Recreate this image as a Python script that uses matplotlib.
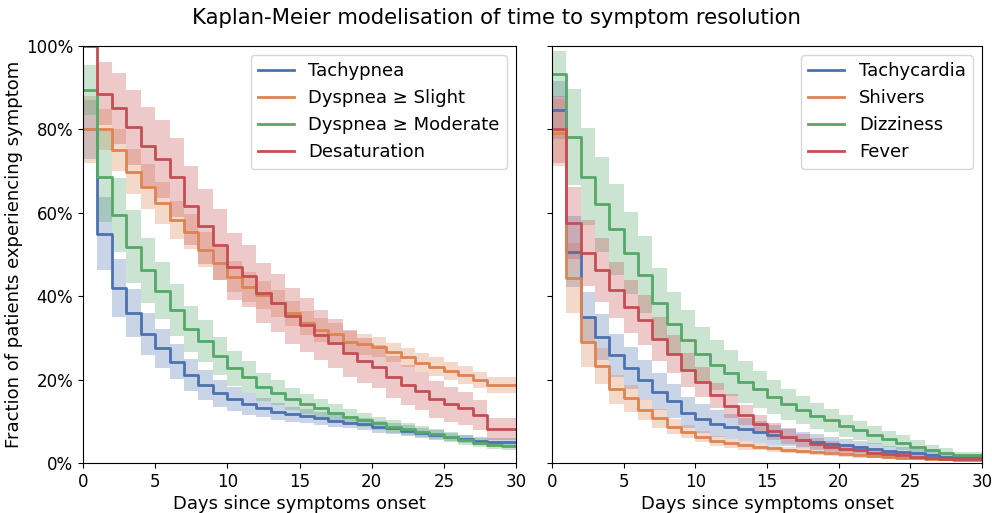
import matplotlib
matplotlib.use("Agg")
import matplotlib.pyplot as plt
from matplotlib.ticker import PercentFormatter
import numpy as np

days = list(range(0, 31))

# Left panel (values in %)
left_names = ["Tachypnea", "Dyspnea ≥ Slight", "Dyspnea ≥ Moderate", "Desaturation"]
tachypnea = [80, 55, 42, 36, 30.9, 27.5, 24.3, 21.1, 18.7, 16.7, 15.3, 14.1, 13.3, 12.3, 11.7,
             11.3, 10.7, 10.1, 9.7, 9.3, 8.7, 8.3, 7.7, 7.1, 6.7, 6.2, 5.7, 5.3, 5.0, 5.0, 5.0]
tachypnea_ci = [7, 8.7, 6.9, 5.8, 5.0, 4.6, 4.2, 3.8, 3.5, 3.2, 2.9, 2.6, 2.3, 2.0, 1.8,
                1.6, 1.5, 1.5, 1.4, 1.4, 1.4, 1.3, 1.3, 1.2, 1.1, 1.0, 1.0, 0.9, 0.9, 0.9, 0.9]
dysp_slight = [80.0, 80.0, 75.1, 69.9, 66.3, 62.3, 58.3, 55.5, 51.1, 47.9, 44.7, 42.3, 40.3, 38.3, 35.9,
               33.5, 31.9, 30.9, 29.1, 28.5, 27.9, 26.5, 25.3, 24.1, 23.1, 22.1, 21.1, 19.9, 18.7, 18.7, 18.7]
dysp_slight_ci = [8, 5, 5, 5.5, 5.5, 5, 4.5, 4.3, 4.2, 4, 3.8, 3.6, 3.4, 3.2, 3.0,
                  2.9, 2.8, 2.7, 2.6, 2.5, 2.4, 2.3, 2.3, 2.2, 2.2, 2.1, 2.1, 2.0, 2.0, 2.0, 2.0]
dysp_moderate = [89.4, 68.7, 59.5, 51.9, 46.2, 41.3, 36.7, 32.1, 29.3, 25.7, 22.7, 20.7, 18.3, 16.9, 15.4,
                 14.1, 13.1, 12.1, 11.1, 10.3, 9.5, 8.7, 8.1, 7.5, 6.9, 6.2, 5.5, 4.9, 4.3, 4.1, 4.1]
dysp_moderate_ci = [6, 11, 8.8, 8.8, 7.8, 6.8, 6.2, 5.6, 5.0, 4.6, 4.2, 3.8, 3.4, 3.0, 2.6,
                    2.4, 2.2, 2.0, 1.8, 1.7, 1.6, 1.5, 1.4, 1.3, 1.2, 1.2, 1.1, 1.1, 1.0, 1.0, 1.0]
desaturation = [100, 88.6, 85.1, 80.5, 75.9, 72.9, 68.5, 61.7, 56.8, 52.3, 47.1, 44.8, 40.8, 38.3, 35.3,
                33.1, 30.7, 28.7, 26.3, 24.5, 23.1, 20.7, 18.7, 17.3, 15.3, 14.1, 13.1, 11.5, 8.1, 8.1, 8.1]
desaturation_ci = [0, 7.6, 8.5, 9, 9.5, 9.3, 9.4, 9.5, 9, 8.5, 8, 7.5, 7.2, 7, 6.7,
                   6.4, 6.1, 5.8, 5.6, 5.4, 5.2, 5, 4.8, 4.6, 4.4, 4.2, 4.0, 3.6, 2.6, 2.6, 2.6]

# Right panel (values in %)
right_names = ["Tachycardia", "Shivers", "Dizziness", "Fever"]
tachycardia = [84.7, 50.7, 35.1, 30.3, 25.8, 22.8, 19.9, 17.1, 14.9, 12.1, 10.6, 9.4, 8.7, 8.1, 7.5,
               6.7, 6.2, 5.5, 5.1, 4.6, 4.2, 3.8, 3.4, 2.9, 2.7, 2.3, 1.9, 1.5, 1.5, 1.5, 1.5]
tachycardia_ci = [7, 8.5, 6, 5.5, 5.2, 5.0, 4.7, 4.4, 4.1, 3.8, 3.5, 3.2, 3.0, 2.8, 2.6,
                  2.4, 2.2, 2.0, 1.8, 1.7, 1.6, 1.4, 1.3, 1.2, 1.1, 1.0, 0.9, 0.8, 0.7, 0.7, 0.7]
shivers = [79.2, 44.3, 28.9, 23.3, 17.7, 15.5, 12.7, 10.7, 8.7, 7.5, 6.3, 5.3, 4.7, 4.2, 3.9,
           3.5, 3.1, 2.9, 2.6, 2.3, 2.1, 1.8, 1.6, 1.4, 1.3, 1.1, 1.0, 0.9, 0.7, 0.7, 0.7]
shivers_ci = [8, 8.4, 5.8, 4.3, 3.5, 3.2, 2.5, 2.2, 1.8, 1.5, 1.3, 1.2, 1.1, 1.0, 0.9,
              0.8, 0.75, 0.7, 0.65, 0.6, 0.55, 0.5, 0.5, 0.45, 0.4, 0.4, 0.35, 0.35, 0.3, 0.3, 0.3]
dizziness = [93.2, 78.1, 68.7, 62.0, 56.0, 50.3, 45.2, 38.3, 33.4, 29.6, 26.1, 23.6, 21.6, 19.4, 17.7,
             15.8, 14.1, 12.7, 11.3, 10.2, 8.9, 7.8, 6.7, 5.7, 4.9, 3.9, 3.1, 2.5, 1.8, 1.8, 1.8]
dizziness_ci = [5.5, 11.5, 11.6, 11.5, 11, 9.8, 9.3, 8.5, 7.5, 7, 6.5, 6, 5.5, 5, 4.4,
                4, 3.7, 3.4, 3.1, 2.8, 2.6, 2.3, 2.1, 1.9, 1.7, 1.5, 1.3, 1.1, 0.8, 0.8, 0.8]
fever = [80.0, 57.6, 50.4, 46.3, 41.5, 37.5, 34.3, 29.8, 26.2, 22.3, 19.4, 16.2, 13.7, 11.5, 9.3,
         7.6, 6.3, 5.4, 4.6, 3.9, 3.4, 3.0, 2.5, 2.1, 1.8, 1.5, 1.3, 1.0, 0.9, 0.9, 0.9]
fever_ci = [8, 8.7, 7.9, 7.6, 6.8, 6.3, 5.9, 5.3, 4.6, 4.1, 3.6, 3.1, 2.8, 2.5, 2.2,
            2.0, 1.8, 1.6, 1.4, 1.3, 1.2, 1.1, 1.0, 0.9, 0.8, 0.7, 0.6, 0.5, 0.5, 0.5, 0.5]

colors = ["#4C72B0", "#DD8452", "#55A868", "#C44E52"]
x_ticks = [0, 5, 10, 15, 20, 25, 30]
y_ticks = [0, 20, 40, 60, 80, 100]

plt.rcParams['font.family'] = ['DejaVu Sans']

fig = plt.figure(figsize=(9.92, 5.13), dpi=100)
ax1 = fig.add_axes([83/992, 1-463/513, 433/992, 417/513])
ax2 = fig.add_axes([552/992, 1-463/513, 430/992, 417/513], sharey=ax1)

def draw(ax, names, series, cis):
    d = np.array(days)
    for name, vals, ci, c in zip(names, series, cis, colors):
        v = np.array(vals, dtype=float)
        h = np.array(ci, dtype=float)
        lo = np.clip(v - h, 0, 100)
        hi = np.clip(v + h, 0, 100)
        ax.fill_between(d, lo, hi, step='post', color=c, alpha=0.3, linewidth=0)
        ax.step(d, v, where='post', color=c, lw=2, label=name)
    ax.set_xlim(0, 30)
    ax.set_ylim(0, 100)
    ax.set_xticks(x_ticks)
    ax.set_yticks(y_ticks)
    ax.yaxis.set_major_formatter(PercentFormatter(100, decimals=0))
    ax.tick_params(labelsize=12)
    ax.set_xlabel("Days since symptoms onset", fontsize=13, labelpad=3)
    ax.legend(loc='upper right', fontsize=13)

draw(ax1, left_names, [tachypnea, dysp_slight, dysp_moderate, desaturation],
     [tachypnea_ci, dysp_slight_ci, dysp_moderate_ci, desaturation_ci])
draw(ax2, right_names, [tachycardia, shivers, dizziness, fever],
     [tachycardia_ci, shivers_ci, dizziness_ci, fever_ci])
ax1.set_ylabel("Fraction of patients experiencing symptom", fontsize=13, labelpad=2)
plt.setp(ax2.get_yticklabels(), visible=False)

fig.suptitle("Kaplan-Meier modelisation of time to symptom resolution", fontsize=15.3, y=0.985)

fig.savefig("out.png", dpi=100)
